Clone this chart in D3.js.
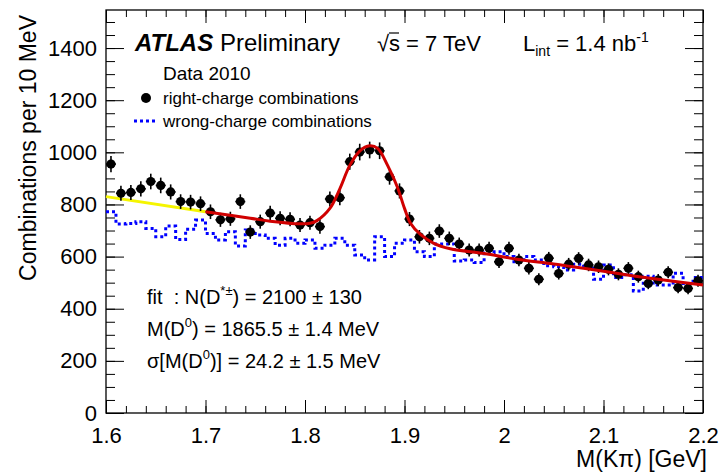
<!DOCTYPE html>
<html>
<head>
<meta charset="utf-8">
<title>D* -> D0 pi candidates</title>
<script src="https://d3js.org/d3.v7.min.js"></script>
<style>
  body { margin: 0; background: #fff; }
  text { font-family: "Liberation Sans", Arial, sans-serif; }
</style>
</head>
<body>
<div id="chart"></div>
<script>
// bin centres 1.605 ... 2.195 GeV, 10 MeV bins
const binLow = d3.range(60).map(i => +(1.6 + i * 0.01).toFixed(2));

const rightCharge = [955, 843, 846, 860, 888, 873, 848, 811, 809, 803,
                     772, 741, 745, 811, 694, 734, 767, 747, 743, 721,
                     730, 715, 821, 826, 964, 1001, 1009, 1006, 906, 852,
                     744, 676, 670, 698, 670, 648, 625, 625, 632, 580,
                     632, 587, 555, 513, 594, 535, 571, 593, 568, 561,
                     551, 532, 555, 523, 497, 510, 540, 481, 478, 507];

const rightErr = [31, 29, 29, 29, 30, 30, 29, 28, 28, 28,
                  28, 27, 27, 28, 26, 27, 28, 27, 27, 27,
                  27, 27, 29, 29, 31, 32, 32, 32, 30, 29,
                  27, 26, 26, 26, 26, 25, 25, 25, 25, 24,
                  25, 24, 24, 23, 24, 23, 24, 24, 24, 24,
                  23, 23, 24, 23, 22, 23, 23, 22, 22, 23];

const wrongCharge = [772, 725, 727, 734, 708, 676, 717, 666, 705, 740,
                     689, 664, 695, 641, 702, 683, 670, 644, 670, 651,
                     664, 632, 644, 670, 644, 606, 587, 676, 600, 651,
                     664, 619, 600, 648, 648, 583, 587, 577, 614, 619,
                     600, 580, 600, 587, 565, 561, 549, 571, 561, 513,
                     568, 520, 530, 468, 525, 491, 491, 536, 497, 520];

// fit curve
const fitX = [1.70, 1.745, 1.765, 1.795, 1.805, 1.812, 1.825, 1.835, 1.845, 1.855,
              1.865, 1.873, 1.883, 1.893, 1.900, 1.906, 1.916, 1.929, 1.946, 1.98,
              2.013, 2.05, 2.08, 2.113, 2.147, 2.2];
const fitY = [772, 747, 736, 726, 728, 738, 785, 860, 950, 1005,
              1025, 1015, 950, 865, 785, 728, 685, 652, 630, 612,
              590, 572, 555, 536, 517, 491];
// background extrapolation below 1.7 GeV
const bkgX = [1.6, 1.7];
const bkgY = [830, 772];

const xTicks = [1.6, 1.7, 1.8, 1.9, 2.0, 2.1, 2.2];
const yTicks = [0, 200, 400, 600, 800, 1000, 1200, 1400];

const W = 723, H = 473;
const L = 106, R = 703, T = 10, B = 413;

const svg = d3.select("#chart").append("svg")
    .attr("width", W).attr("height", H);

const x = d3.scaleLinear().domain([1.6, 2.2]).range([L, R]);
const y = d3.scaleLinear().domain([0, 1546]).range([B, T]);

const xMinor = d3.range(1.6, 2.2001, 0.02).map(v => +v.toFixed(2));
const yMinor = d3.range(0, 1546, 50);

function styleAxis(g) {
    g.select(".domain").remove();
    g.selectAll("line").attr("stroke", "#000").attr("stroke-width", 1);
    g.selectAll("text").attr("fill", "#000")
        .style("font-family", "'Liberation Sans', Arial, sans-serif");
}

// bottom
svg.append("g").attr("transform", "translate(0," + B + ")")
    .call(d3.axisBottom(x).tickValues(xMinor).tickSize(-7).tickFormat(""))
    .call(styleAxis);
svg.append("g").attr("transform", "translate(0," + B + ")")
    .call(d3.axisBottom(x).tickValues(xTicks).tickSize(-13).tickPadding(14)
        .tickFormat(d => String(+d.toFixed(1))))
    .call(styleAxis)
    .selectAll("text").style("font-size", "22px");
// top
svg.append("g").attr("transform", "translate(0," + T + ")")
    .call(d3.axisTop(x).tickValues(xMinor).tickSize(-7).tickFormat(""))
    .call(styleAxis);
svg.append("g").attr("transform", "translate(0," + T + ")")
    .call(d3.axisTop(x).tickValues(xTicks).tickSize(-13).tickFormat(""))
    .call(styleAxis);
// left
svg.append("g").attr("transform", "translate(" + L + ",0)")
    .call(d3.axisLeft(y).tickValues(yMinor).tickSize(-9).tickFormat(""))
    .call(styleAxis);
svg.append("g").attr("transform", "translate(" + L + ",0)")
    .call(d3.axisLeft(y).tickValues(yTicks).tickSize(-18).tickPadding(9)
        .tickFormat(d3.format("d")))
    .call(styleAxis)
    .selectAll("text").style("font-size", "22px");
// right
svg.append("g").attr("transform", "translate(" + R + ",0)")
    .call(d3.axisRight(y).tickValues(yMinor).tickSize(-9).tickFormat(""))
    .call(styleAxis);
svg.append("g").attr("transform", "translate(" + R + ",0)")
    .call(d3.axisRight(y).tickValues(yTicks).tickSize(-18).tickFormat(""))
    .call(styleAxis);

svg.append("rect")
    .attr("x", L).attr("y", T).attr("width", R - L).attr("height", B - T)
    .attr("fill", "none").attr("stroke", "#000").attr("stroke-width", 1.3);

// wrong-charge histogram
const histPts = wrongCharge.map((v, i) => [binLow[i], v]);
histPts.push([2.2, wrongCharge[wrongCharge.length - 1]]);
svg.append("path")
    .datum(histPts)
    .attr("fill", "none")
    .attr("stroke", "#0000ff")
    .attr("stroke-width", 3)
    .attr("stroke-dasharray", "3,3")
    .attr("d", d3.line().x(d => x(d[0])).y(d => y(d[1])).curve(d3.curveStepAfter));

// fit lines
svg.append("path")
    .datum(bkgX.map((v, i) => [v, bkgY[i]]))
    .attr("fill", "none").attr("stroke", "#f5f500").attr("stroke-width", 3)
    .attr("d", d3.line().x(d => x(d[0])).y(d => y(d[1])));

// data points
const pts = svg.append("g");
rightCharge.forEach((v, i) => {
    const cx = x(binLow[i] + 0.005);
    pts.append("line")
        .attr("x1", cx).attr("x2", cx)
        .attr("y1", y(v - rightErr[i])).attr("y2", y(v + rightErr[i]))
        .attr("stroke", "#000").attr("stroke-width", 1.6);
    pts.append("line")
        .attr("x1", x(binLow[i])).attr("x2", x(binLow[i] + 0.01))
        .attr("y1", y(v)).attr("y2", y(v))
        .attr("stroke", "#000").attr("stroke-width", 1.6);
    pts.append("circle")
        .attr("cx", cx).attr("cy", y(v)).attr("r", 4.6).attr("fill", "#000");
});

svg.append("path")
    .datum(fitX.map((v, i) => [v, fitY[i]]))
    .attr("fill", "none").attr("stroke", "#d00000").attr("stroke-width", 3)
    .attr("d", d3.line().x(d => x(d[0])).y(d => y(d[1])).curve(d3.curveCatmullRom));

// axis titles
svg.append("text")
    .attr("transform", "translate(36,15) rotate(-90)")
    .attr("text-anchor", "end")
    .style("font-size", "23px")
    .text("Combinations per 10 MeV");

svg.append("text")
    .attr("x", 707).attr("y", 467)
    .attr("text-anchor", "end")
    .style("font-size", "23px")
    .text("M(Kπ) [GeV]");

// header
const head = svg.append("text").attr("x", 135).attr("y", 51).style("font-size", "24px");
head.append("tspan").attr("font-weight", "bold").attr("font-style", "italic").text("ATLAS");
head.append("tspan").text(" Preliminary");

svg.append("text").attr("x", 377).attr("y", 51).style("font-size", "22px").text("√");
svg.append("line").attr("x1", 389).attr("x2", 399).attr("y1", 33).attr("y2", 33)
    .attr("stroke", "#000").attr("stroke-width", 1.2);
svg.append("text").attr("x", 389).attr("y", 51).style("font-size", "22px").text("s = 7 TeV");

const lumi = svg.append("text").attr("x", 523).attr("y", 51).style("font-size", "22px");
lumi.append("tspan").text("L");
lumi.append("tspan").attr("dy", 5).style("font-size", "14px").text("int");
lumi.append("tspan").attr("dy", -5).text(" = 1.4 nb");
lumi.append("tspan").attr("dy", -9).style("font-size", "14px").text("-1");

svg.append("text").attr("x", 163).attr("y", 80).style("font-size", "19px").text("Data 2010");

// legend
svg.append("circle").attr("cx", 146).attr("cy", 98).attr("r", 5).attr("fill", "#000");
svg.append("text").attr("x", 163).attr("y", 104).style("font-size", "17px")
    .text("right-charge combinations");
svg.append("line").attr("x1", 134).attr("x2", 158).attr("y1", 121).attr("y2", 121)
    .attr("stroke", "#0000ff").attr("stroke-width", 3).attr("stroke-dasharray", "3,3");
svg.append("text").attr("x", 163).attr("y", 127).style("font-size", "17px")
    .text("wrong-charge combinations");

// fit results
const f1 = svg.append("text").attr("x", 147).attr("y", 304).style("font-size", "20px");
f1.append("tspan").text("fit\u00a0\u00a0: N(D");
f1.append("tspan").attr("dy", -9).style("font-size", "13px").text("*±");
f1.append("tspan").attr("dy", 9).text(") = 2100 ± 130");

const f2 = svg.append("text").attr("x", 147).attr("y", 336).style("font-size", "20px");
f2.append("tspan").text("M(D");
f2.append("tspan").attr("dy", -9).style("font-size", "13px").text("0");
f2.append("tspan").attr("dy", 9).text(") = 1865.5 ± 1.4 MeV");

const f3 = svg.append("text").attr("x", 147).attr("y", 368).style("font-size", "20px");
f3.append("tspan").text("σ[M(D");
f3.append("tspan").attr("dy", -9).style("font-size", "13px").text("0");
f3.append("tspan").attr("dy", 9).text(")] = 24.2 ± 1.5 MeV");
</script>
</body>
</html>
